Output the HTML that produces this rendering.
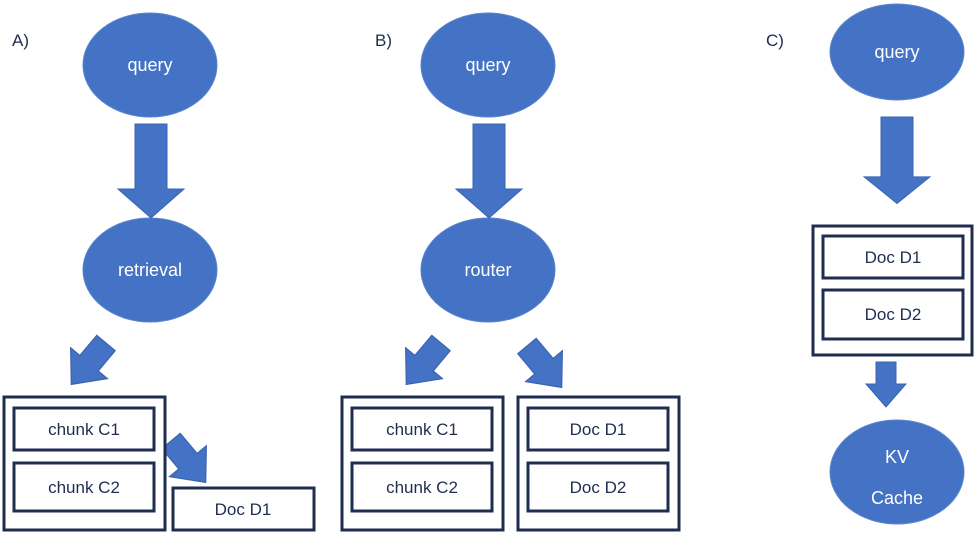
<!DOCTYPE html>
<html><head><meta charset="utf-8"><style>
html,body{margin:0;padding:0;background:#fff;}
svg{display:block;}
text{font-family:"Liberation Sans",sans-serif;}
</style></head><body>
<svg width="975" height="540" viewBox="0 0 975 540" xmlns="http://www.w3.org/2000/svg">
<defs>
<g id="darr"><polygon points="-16,0 16,0 16,65 33,65 0,94 -33,65 -16,65" fill="#4472c4" stroke="#3a64b0" stroke-width="1"/></g>
<g id="sarr"><polygon points="-10,0 10,0 10,22 20,22 0,45 -20,22 -10,22" fill="#4472c4" stroke="#3a64b0" stroke-width="1"/></g>
</defs>
<g fill="#4472c4" stroke="#5b84cc" stroke-width="1">
<ellipse cx="150" cy="65" rx="67" ry="52"/>
<ellipse cx="150" cy="270" rx="67" ry="52"/>
<ellipse cx="488" cy="65" rx="67" ry="52"/>
<ellipse cx="488" cy="270" rx="67" ry="52"/>
<ellipse cx="897" cy="52" rx="67" ry="48"/>
<ellipse cx="897" cy="472" rx="67" ry="52"/>
</g>
<g fill="#fff" font-size="18" text-anchor="middle">
<text x="150" y="71">query</text>
<text x="150" y="276">retrieval</text>
<text x="488" y="71">query</text>
<text x="488" y="276">router</text>
<text x="897" y="58">query</text>
<text x="897" y="463">KV</text>
<text x="897" y="504">Cache</text>
</g>
<g fill="#1f2d4f" font-size="17">
<text x="12" y="46">A)</text>
<text x="375" y="46">B)</text>
<text x="766" y="46">C)</text>
</g>
<use href="#darr" transform="translate(151,124)"/>
<use href="#darr" transform="translate(489,124)"/>
<use href="#darr" transform="translate(897,117) scale(1,0.92)"/>
<use href="#sarr" transform="translate(886,362)"/>
<use href="#sarr" transform="translate(106,343) rotate(40) scale(1.2)"/>
<use href="#sarr" transform="translate(441,343) rotate(40) scale(1.2)"/>
<use href="#sarr" transform="translate(527,346) rotate(-40) scale(1.2)"/>
<use href="#sarr" transform="translate(171,441) rotate(-40) scale(1.2)"/>
<g fill="#fff" stroke="#1f2d4f" stroke-width="3">
<rect x="4" y="397" width="161" height="133"/>
<rect x="14" y="408" width="140" height="42"/>
<rect x="14" y="463" width="140" height="48"/>
<rect x="173" y="488" width="141" height="42"/>
<rect x="342" y="397" width="161" height="133"/>
<rect x="352" y="408" width="140" height="42"/>
<rect x="352" y="463" width="140" height="48"/>
<rect x="518" y="397" width="161" height="133"/>
<rect x="528" y="408" width="140" height="42"/>
<rect x="528" y="463" width="140" height="48"/>
<rect x="813" y="226" width="159" height="129"/>
<rect x="823" y="236" width="140" height="42"/>
<rect x="823" y="290" width="140" height="49"/>
</g>
<g fill="#1f2d4f" font-size="17" text-anchor="middle">
<text x="84" y="435">chunk C1</text>
<text x="84" y="493">chunk C2</text>
<text x="243" y="515">Doc D1</text>
<text x="422" y="435">chunk C1</text>
<text x="422" y="493">chunk C2</text>
<text x="598" y="435">Doc D1</text>
<text x="598" y="493">Doc D2</text>
<text x="893" y="263">Doc D1</text>
<text x="893" y="320">Doc D2</text>
</g>
</svg>
</body></html>
